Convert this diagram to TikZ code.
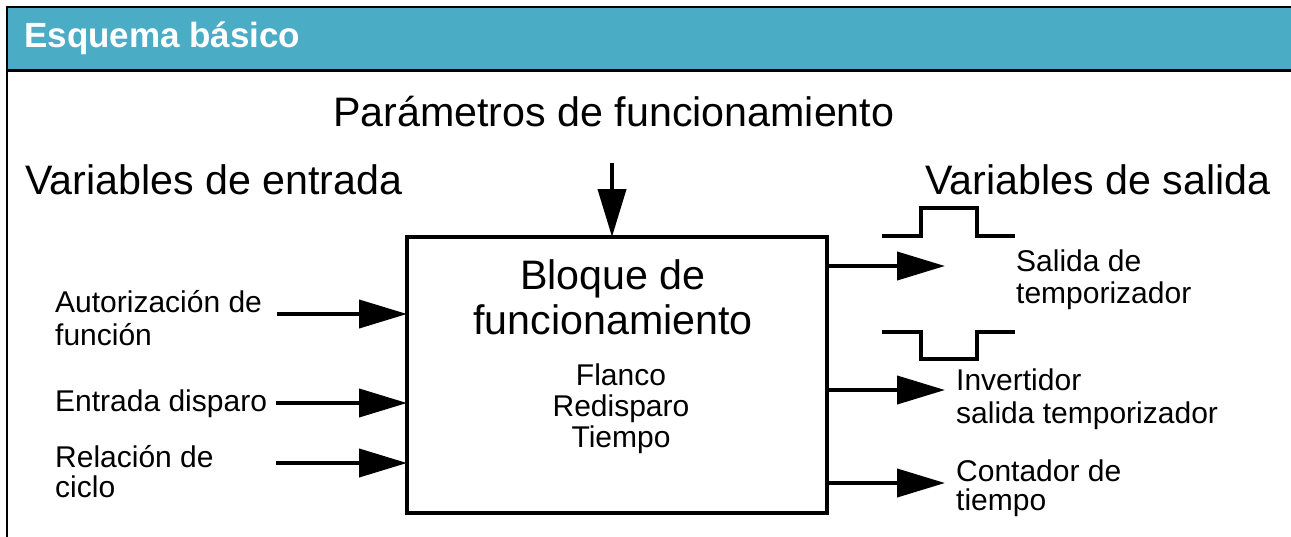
\documentclass[tikz,border=0pt]{standalone}
\usepackage{fontspec}
\setmainfont{Liberation Sans}
\usetikzlibrary{arrows.meta}
\definecolor{headblue}{HTML}{4BACC6}
\tikzset{
  big/.style={inner sep=0pt, font=\fontsize{41.2}{47}\selectfont},
  small/.style={inner sep=0pt, font=\fontsize{30}{33}\selectfont},
  flow/.style={line width=4pt, -{Triangle[length=48pt,width=28pt]}},
  pulse/.style={line width=4pt, line join=miter},
}
\begin{document}
\begin{tikzpicture}[x=1pt,y=-1pt]
\useasboundingbox (0,0) rectangle (1291,536);
% frame and header
\fill[headblue] (7,7) rectangle (1295,70.5);
\draw[line width=2.5pt] (1295,7) -- (7,7) -- (7,540);
\draw[line width=2.5pt] (7,70.5) -- (1295,70.5);
\node[inner sep=0pt, anchor=base west, text=white, font=\fontsize{35}{40}\selectfont\bfseries] (title) at (24,47) {Esquema básico};
% main block
\node[draw, line width=4pt, minimum width=420pt, minimum height=276pt, inner sep=0pt, outer sep=0pt] (box) at (617,375) {};
\node[big, anchor=base] (bl1) at (613,289) {Bloque de};
\node[big, anchor=base] (bl2) at (613,334) {funcionamiento};
\node[small, anchor=base] (f1) at (621,385) {Flanco};
\node[small, anchor=base] (f2) at (621,416) {Redisparo};
\node[small, anchor=base] (f3) at (621,447) {Tiempo};
% headings
\node[big, anchor=base west] (par) at (333,126) {Parámetros de funcionamiento};
\node[big, anchor=base west] (vin) at (25,194) {Variables de entrada};
\node[big, anchor=base west] (vout) at (925,194) {Variables de salida};
% input labels
\node[small, anchor=base west] (a1) at (55,312) {Autorización de};
\node[small, anchor=base west] (a2) at (55,345) {función};
\node[small, anchor=base west] (e1) at (55,411) {Entrada disparo};
\node[small, anchor=base west] (r1) at (55,467) {Relación de};
\node[small, anchor=base west] (r2) at (55,497) {ciclo};
% output labels
\node[small, anchor=base west] (s1) at (1016,271) {Salida de};
\node[small, anchor=base west] (s2) at (1016,303) {temporizador};
\node[small, anchor=base west] (i1) at (956,390) {Invertidor};
\node[small, anchor=base west] (i2) at (956,423) {salida temporizador};
\node[small, anchor=base west] (c1) at (956,481) {Contador de};
\node[small, anchor=base west] (c2) at (956,510) {tiempo};
% connector coordinates
\coordinate (pin) at (612,163);
\coordinate (in1) at (277,314);
\coordinate (in2) at (276,403);
\coordinate (in3) at (276,463);
\coordinate (out1) at (945,266);
\coordinate (out2) at (945,390);
\coordinate (out3) at (945,483);
% arrows
\draw[flow] (pin) -- (pin |- box.north);
\draw[flow] (in1) -- (in1 -| box.west);
\draw[flow] (in2) -- (in2 -| box.west);
\draw[flow] (in3) -- (in3 -| box.west);
\draw[flow] (out1 -| box.east) -- (out1);
\draw[flow] (out2 -| box.east) -- (out2);
\draw[flow] (out3 -| box.east) -- (out3);
% pulses
\draw[pulse] (882,236) -- (921,236) -- (921,208) -- (977,208) -- (977,236) -- (1015,236);
\draw[pulse] (882,332) -- (921,332) -- (921,359) -- (977,359) -- (977,332) -- (1015,332);
\end{tikzpicture}
\end{document}
